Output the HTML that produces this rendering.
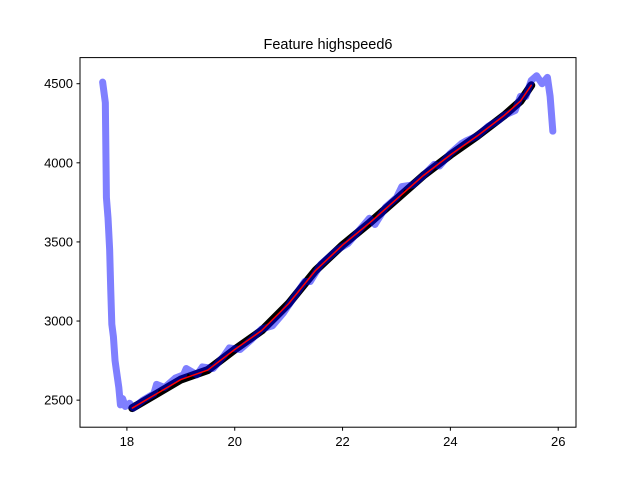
<!DOCTYPE html>
<html><head><meta charset="utf-8"><style>
body{margin:0;background:#fff}
svg text{font-family:"Liberation Sans","DejaVu Sans",sans-serif;font-size:13px;fill:#000}
</style></head><body>
<svg width="640" height="480" xmlns="http://www.w3.org/2000/svg">
<rect width="640" height="480" fill="#fff"/>
<text x="328" y="49" text-anchor="middle" style="font-size:14.5px">Feature highspeed6</text>
<g id="plot"></g>
<rect x="80" y="57.6" width="496" height="369.6" fill="none" stroke="#000" stroke-width="1"/>
<g id="axes"></g>
</svg>
<script>
const xTicks=[18,20,22,24,26];
const yTicks=[2500,3000,3500,4000,4500];
const blueX=[17.55,17.6,17.62,17.65,17.68,17.7,17.72,17.75,17.78,17.8,17.85,17.88,17.92,17.97,18.05,18.12,18.3,18.5,18.55,18.7,18.9,19.05,19.1,19.3,19.4,19.6,19.8,19.9,20.1,20.3,20.5,20.7,20.9,21.1,21.3,21.4,21.6,21.8,21.9,22.1,22.3,22.5,22.6,22.8,23.0,23.1,23.3,23.5,23.7,23.8,24.0,24.2,24.3,24.5,24.7,24.9,25.0,25.2,25.3,25.4,25.5,25.6,25.7,25.8,25.85,25.9];
const blueY=[4510,4380,3780,3650,3450,3200,2980,2900,2750,2700,2580,2470,2510,2460,2480,2450,2500,2540,2600,2580,2640,2660,2700,2660,2710,2700,2780,2830,2820,2880,2950,2970,3050,3150,3250,3250,3360,3420,3450,3490,3570,3650,3610,3720,3780,3850,3860,3920,3990,3980,4060,4120,4140,4170,4230,4270,4300,4330,4420,4420,4520,4550,4500,4540,4420,4200];
const blackX=[18.1,18.5,19.0,19.5,20.0,20.5,21.0,21.5,22.0,22.5,23.0,23.5,24.0,24.5,25.0,25.3,25.5];
const blackY=[2450,2530,2630,2690,2820,2940,3110,3320,3480,3620,3770,3920,4050,4170,4300,4390,4490];
const X0=17.13,X1=26.33,Y0=2329,Y1=4665;
const sx=v=>80+(v-X0)/(X1-X0)*496;
const sy=v=>427.2-(v-Y0)/(Y1-Y0)*369.6;
const NS="http://www.w3.org/2000/svg";
const plot=document.getElementById('plot'),axes=document.getElementById('axes');
function line(xs,ys,color,w,op,name){
 const p=document.createElementNS(NS,'polyline');
 p.setAttribute('points',xs.map((x,i)=>sx(x)+','+sy(ys[i])).join(' '));
 p.setAttribute('fill','none');p.setAttribute('stroke',color);p.setAttribute('stroke-width',w);
 p.setAttribute('stroke-opacity',op);p.setAttribute('stroke-linejoin','round');p.setAttribute('stroke-linecap','round');
 
 
 plot.appendChild(p);
}
line(blackX,blackY,'#000',8,1,'black-series');
line(blueX,blueY,'#0000ff',7,0.5,'blue-series');
line(blackX,blackY,'#ff0000',1.5,1,'red-series');
xTicks.forEach(t=>{
 const x=sx(t);
 const l=document.createElementNS(NS,'line');
 l.setAttribute('x1',x);l.setAttribute('x2',x);l.setAttribute('y1',427.2);l.setAttribute('y2',430.7);l.setAttribute('stroke','#000');
 
 
 axes.appendChild(l);
 const tx=document.createElementNS(NS,'text');
 tx.setAttribute('x',x);tx.setAttribute('y',446);tx.setAttribute('text-anchor','middle');tx.textContent=t;
 
 
 axes.appendChild(tx);
});
yTicks.forEach(t=>{
 const y=sy(t);
 const l=document.createElementNS(NS,'line');
 l.setAttribute('x1',76.5);l.setAttribute('x2',80);l.setAttribute('y1',y);l.setAttribute('y2',y);l.setAttribute('stroke','#000');
 
 
 axes.appendChild(l);
 const tx=document.createElementNS(NS,'text');
 tx.setAttribute('x',73);tx.setAttribute('y',y+4.5);tx.setAttribute('text-anchor','end');tx.textContent=t;
 
 
 axes.appendChild(tx);
});
</script>
</body></html>
